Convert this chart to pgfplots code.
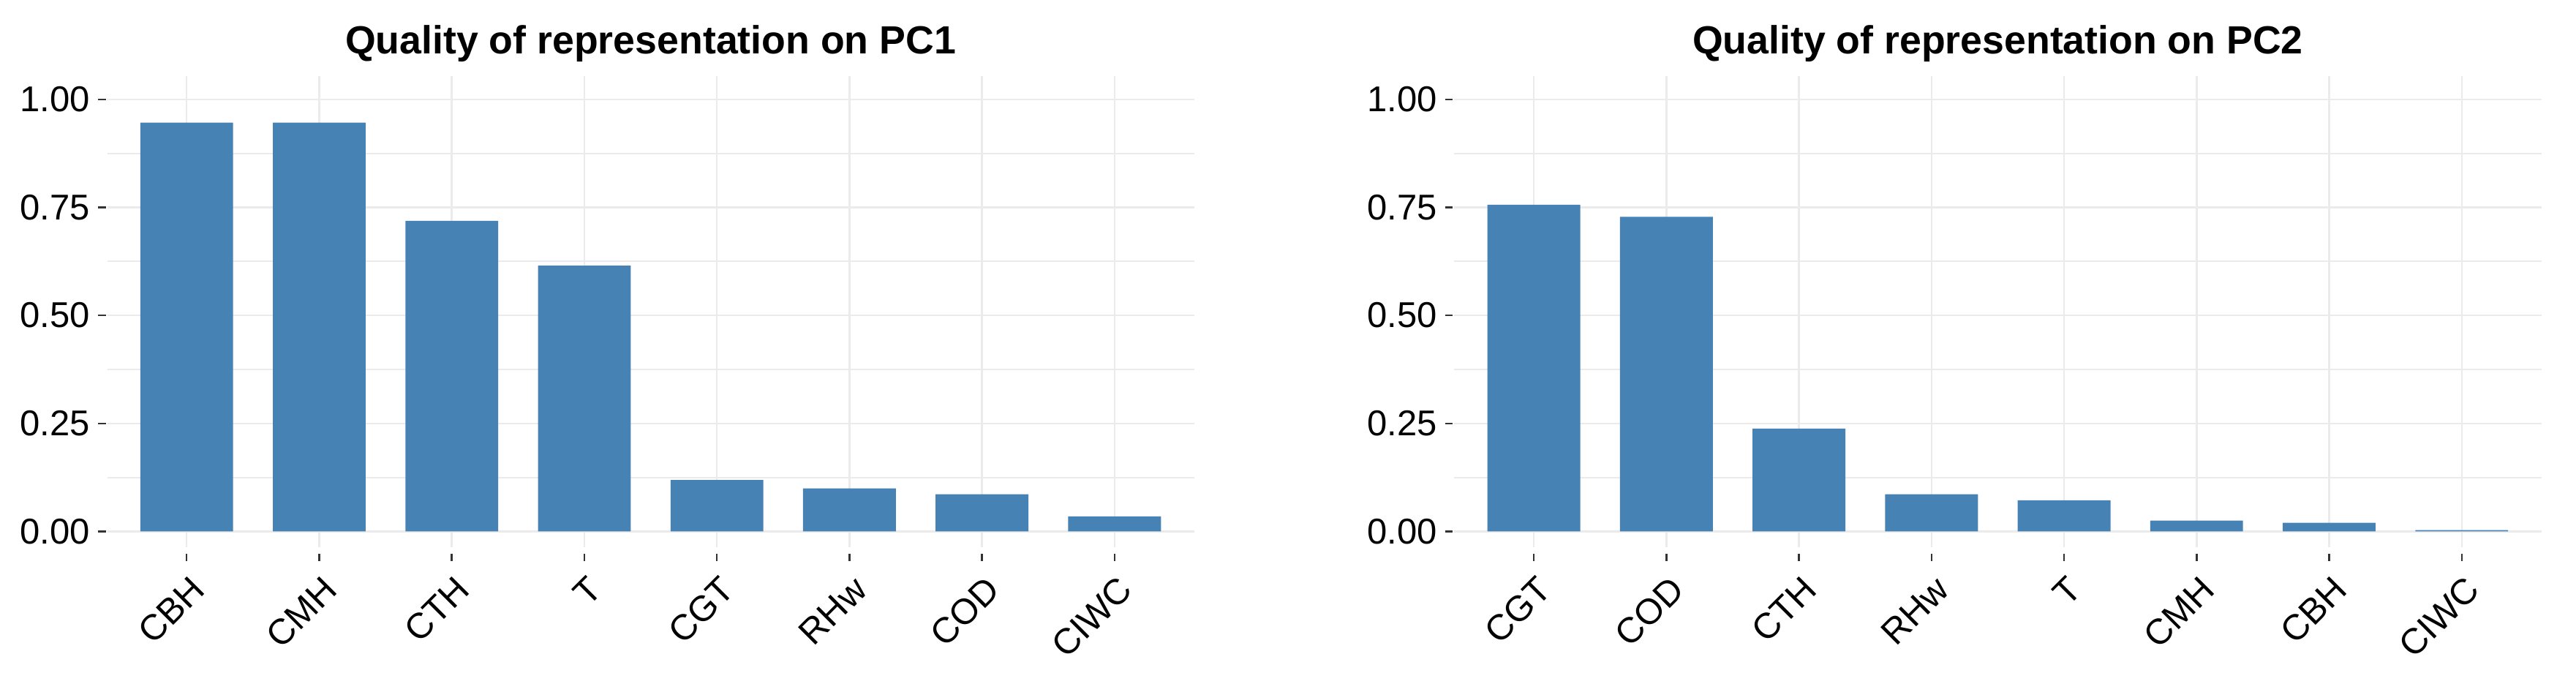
\documentclass[border=0pt]{standalone}
\usepackage{fontspec}
\setmainfont{Liberation Sans}
\usepackage{pgfplots}
\pgfplotsset{compat=1.18}

\definecolor{steel}{HTML}{4682B4}
\definecolor{gridgrey}{HTML}{EBEBEB}
\definecolor{tickgrey}{HTML}{333333}

% shared look for both panels (ggplot theme_minimal-ish)
\pgfplotsset{
  qualpanel/.style={
    scale only axis,
    width=303.3pt, height=131.4pt,
    anchor=south west,
    xmin=0.4, xmax=8.6,
    ymin=-0.036, ymax=1.054,
    xtick={1,...,8},
    ytick={0,0.25,0.5,0.75,1},
    minor ytick={0.125,0.375,0.625,0.875},
    xmajorgrids, ymajorgrids, yminorgrids,
    major grid style={gridgrey, line width=0.5pt},
    minor grid style={gridgrey, line width=0.45pt},
    axis line style={draw=none},
    tick pos=left,
    tick align=outside,
    major tick length=2.1pt,
    minor tick length=0pt,
    every tick/.style={tickgrey, line width=0.5pt},
    xtick style={yshift=-1.8pt},
    ytick style={xshift=-0.4pt},
    /pgf/number format/assume math mode=true,
    ticklabel style={font=\fontsize{10}{12}\selectfont, text=black},
    yticklabel style={xshift=0.8pt, /pgf/number format/.cd, fixed, fixed zerofill, precision=2},
    xticklabel style={rotate=45, anchor=north east, yshift=-0.8pt},
    title style={font=\fontsize{10.95}{13}\selectfont\bfseries, yshift=-5.6pt},
    ybar, bar width=0.7, bar shift=0pt,
  },
}

\begin{document}
\begin{tikzpicture}
\path[use as bounding box] (0,0) rectangle (718.8pt,190.8pt);

\begin{axis}[qualpanel, at={(29.9pt,38.2pt)},
  title={Quality of representation on PC1},
  xticklabels={CBH,CMH,CTH,T,CGT,RHw,COD,CIWC}]
\addplot[fill=steel, draw=none] coordinates {
  (1,0.946) (2,0.946) (3,0.719) (4,0.615)
  (5,0.119) (6,0.0995) (7,0.086) (8,0.035)
};
\end{axis}

\begin{axis}[qualpanel, at={(405.8pt,38.2pt)},
  title={Quality of representation on PC2},
  xticklabels={CGT,COD,CTH,RHw,T,CMH,CBH,CIWC}]
\addplot[fill=steel, draw=none] coordinates {
  (1,0.756) (2,0.728) (3,0.238) (4,0.086)
  (5,0.072) (6,0.025) (7,0.020) (8,0.003)
};
\end{axis}
\end{tikzpicture}
\end{document}
